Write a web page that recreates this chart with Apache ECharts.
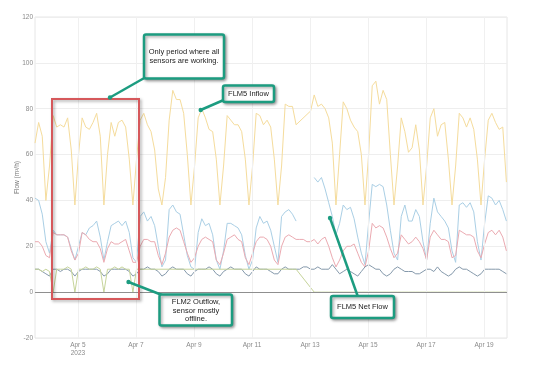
<!DOCTYPE html>
<html><head><meta charset="utf-8">
<script src="https://cdn.jsdelivr.net/npm/echarts@6/dist/echarts.min.js"></script>
<style>html,body{margin:0;padding:0;background:#fff}#c{width:536px;height:368px}</style>
</head><body><div id="c"></div>
<script>
// Sampling grid: one reading every 3 hours from Apr 3 12:30 (UTC)
const startTime = Date.UTC(2023, 3, 3, 12, 30);
const stepHours = 3;
const xMin = Date.UTC(2023, 3, 3, 12, 30);
const xMax = Date.UTC(2023, 3, 19, 19, 0);
const tickDays = [5, 7, 9, 11, 13, 15, 17, 19];
const yMin = -20, yMax = 120, yStep = 20;

// each row: 12:30, 15:30, 18:30, 21:30, 00:30, 03:30, 06:30, 09:30 starting Apr 3..Apr 18, then Apr 19
const inflow = [
  65, 74, 68, 40, 55, 77, 72, 73,
  72, 76, 62, 38, 60, 76, 72, 71,
  74, 78, 68, 38, 60, 74, 68, 74,
  75, 72, 58, 38, 58, 75, 78, 73,
  70, 62, 45, 38, 50, 75, 88, 84,
  84, 78, 60, 38, 55, 76, 80, 76,
  71, 70, 58, 38, 55, 77, 75, 73,
  73, 70, 58, 38, 55, 78, 77, 73,
  75, 72, 58, 38, 55, 82, 81, 81,
  73, null, null, null, 79, 86, 81, 82,
  80, 76, 65, 38, 60, 83, 80, 75,
  72, 70, 60, 38, 60, 90, 92, 82,
  88, 84, 60, 38, 55, 76, 70, 61,
  63, 73, 62, 38, 55, 76, 80, 68,
  73, 74, 58, 38, 55, 78, 76, 72,
  76, 71, 58, 38, 58, 75, 78, 74,
  71, 72, 48
];
const netFlow = [
  41, 40, 34, 22, 17, 27, 25, 25,
  25, 24, 19, 14, 20, 26, 25, 28,
  29, 31, 24, 14, 22, 29, 30, 31,
  29, 31, 26, 15, 13, 33, 35, 31,
  33, 29, 20, 11, 14, 36, 38, 35,
  34, 25, 16, 11, 10, 26, 32, 29,
  30, 25, 14, 10, 18, 30, 30, 29,
  28, 25, 16, 10, 14, 28, 33, 30,
  31, 27, 20, 13, 33, 35, 36, 34,
  31, null, null, null, null, 50, 48, 50,
  45, 39, 33, 25, 30, 38, 36, 37,
  32, 24, 17, 12, 30, 47, 46, 47,
  46, 38, 27, 17, 14, 33, 38, 31,
  31, 36, 33, 22, 14, 30, 41, 35,
  33, 31, 28, 18, 13, 38, 39, 37,
  39, 35, 22, 14, 30, 42, 41, 38,
  40, 36, 31
];
const outflow = [
  22, 22, 20, 16, 15, 26, 25, 25,
  25, 24, 18, 14, 17, 26, 25, 23,
  22, 22, 19, 13, 19, 22, 21, 21,
  22, 23, 18, 13, 13, 20, 23, 23,
  22, 22, 16, 12, 17, 24, 27, 28,
  27, 22, 17, 13, 15, 20, 23, 24,
  23, 22, 14, 12, 17, 23, 24, 25,
  23, 22, 15, 12, 17, 22, 24, 24,
  23, 20, 14, 12, 20, 24, 25, 24,
  23, 23, 23, 22, 22, 23, 21, 23,
  24, 20, 15, 11, 14, 18, 20, 20,
  21, 17, 13, 11, 18, 30, 28, 29,
  28, 24, 19, 15, 17, 25, 23, 21,
  22, 24, 22, 19, 14, 24, 27, 25,
  23, 23, 22, 15, 16, 27, 26, 25,
  25, 24, 18, 15, 21, 26, 27, 25,
  27, 24, 18
];
const baseFlow = [
  10, 10, 9, 8, 7, 10, 10, 9,
  10, 10, 9, 7, 9, 10, 10, 10,
  10, 10, 9, 7, 8, 10, 10, 10,
  10, 10, 9, 7, 8, 10, 10, 11,
  10, 10, 9, 7, 8, 10, 11, 10,
  10, 10, 8, 7, 9, 10, 10, 10,
  11, 10, 8, 7, 9, 10, 11, 10,
  10, 10, 8, 7, 9, 11, 10, 10,
  10, 9, 8, 8, 10, 11, 10, 10,
  10, 10, 11, 11, 10, 10, 11, 10,
  10, 10, 12, 10, 8, 9, 10, 9,
  8, 7, 9, 11, 12, 11, 10, 10,
  8, 7, 8, 10, 11, 10, 9, 9,
  9, 8, 8, 9, 10, 10, 9, 11,
  9, 8, 7, 8, 10, 11, 10, 10,
  9, 8, 7, 8, 10, 10, 10, 10,
  10, 9, 8
];
const flm2Outflow = [
  10, 10, 9, 10, 9, 0, 10, 10,
  10, 11, 10, 0, 10, 10, 11, 10,
  10, 11, 10, 0, 10, 10, 11, 10,
  11, 10, 10, 0, 10, null, null, null,
  null, null, null, null, null, null, null, null,
  null, null, null, null, null, null, null, null,
  null, null, null, null, null, null, null, null,
  null, null, null, null, null, null, null, null,
  null, null, null, null, null, null, null, null,
  10, null, null, null, null, 0, 0, 0,
  0, 0, 0, 0, 0, 0, 0, 0,
  0, 0, 0, 0, 0, 0, 0, 0,
  0, 0, 0, 0, 0, 0, 0, 0,
  0, 0, 0, 0, 0, 0, 0, 0,
  0, 0, 0, 0, 0, 0, 0, 0,
  0, 0, 0, 0, 0, 0, 0, 0,
  0, 0, 0
];

const times = inflow.map((_, i) => startTime + i * stepHours * 3600e3);
const pairs = arr => arr.map((v, i) => [times[i], v]);
const tickTimes = tickDays.map(d => Date.UTC(2023, 3, d));

const FONT = 'Liberation Sans, Arial, sans-serif';
const teal = '#1c9c80';
const shadow = {shadowBlur: 3, shadowColor: 'rgba(0,0,0,0.35)', shadowOffsetX: 1.5, shadowOffsetY: 1.5};

function line(name, data, color, extra) {
  return Object.assign({
    name, type: 'line', data: pairs(data), showSymbol: false, symbol: 'none',
    lineStyle: {color, width: 1}, itemStyle: {color}, animation: false, silent: true
  }, extra || {});
}

const chart = echarts.init(document.getElementById('c'), null, {renderer: 'canvas'});
chart.setOption({
  animation: false,
  backgroundColor: '#fff',
  grid: {left: 35, right: 29, top: 17, bottom: 30, show: true, borderColor: '#e6e6e6', borderWidth: 1},
  xAxis: {
    type: 'value', min: xMin, max: xMax,
    axisLine: {show: false}, axisTick: {show: false}, splitLine: {show: false},
    axisLabel: {
      customValues: tickTimes, color: '#8a8a8a', fontSize: 6.5, fontFamily: FONT, margin: 3, lineHeight: 8,
      formatter: v => { const d = new Date(v).getUTCDate(); return 'Apr ' + d + (d === 5 ? '\n2023' : ''); }
    }
  },
  yAxis: {
    type: 'value', min: yMin, max: yMax, interval: yStep,
    name: 'Flow (m³/h)', nameLocation: 'middle', nameGap: 14, nameMoveOverlap: false,
    nameTextStyle: {color: '#777', fontSize: 6.5, fontFamily: FONT},
    axisLine: {show: false}, axisTick: {show: false},
    axisLabel: {color: '#8a8a8a', fontSize: 6.5, fontFamily: FONT, margin: 2},
    splitLine: {lineStyle: {color: '#eeeeee', width: 1}}
  },
  series: [
    line('FLM5 Inflow', inflow, '#f5dc9c', {
      connectNulls: true,
      markLine: {
        silent: true, symbol: 'none', label: {show: false}, animation: false,
        lineStyle: {color: '#f0f0f0', width: 1, type: 'solid'},
        data: tickTimes.map(t => ({xAxis: t}))
      }
    }),
    line('FLM5 Net Flow', netFlow, '#aacfe5'),
    line('FLM5 Outflow', outflow, '#ebaab1'),
    line('Base Flow', baseFlow, '#8599ab', {
      markLine: {
        silent: true, symbol: 'none', label: {show: false}, animation: false,
        lineStyle: {color: '#8f8f8f', width: 1, type: 'solid'},
        data: [{yAxis: 0}]
      }
    }),
    line('FLM2 Outflow', flm2Outflow, '#c6d49a', {connectNulls: true})
  ],
  graphic: [
    {type: 'rect', z: 100, shape: {x: 52, y: 99, width: 87, height: 200},
     style: Object.assign({fill: 'none', stroke: '#d6585b', lineWidth: 2}, shadow)},
    {type: 'line', z: 100, shape: {x1: 146, y1: 77, x2: 110, y2: 97.5}, style: {stroke: teal, lineWidth: 2.5}},
    {type: 'circle', z: 100, shape: {cx: 110, cy: 97.5, r: 2.2}, style: {fill: teal}},
    {type: 'line', z: 100, shape: {x1: 226, y1: 99, x2: 200.7, y2: 110}, style: {stroke: teal, lineWidth: 2.5}},
    {type: 'circle', z: 100, shape: {cx: 200.7, cy: 110, r: 2.2}, style: {fill: teal}},
    {type: 'line', z: 100, shape: {x1: 162, y1: 295, x2: 128.5, y2: 282}, style: {stroke: teal, lineWidth: 2.5}},
    {type: 'circle', z: 100, shape: {cx: 128.5, cy: 282, r: 2.2}, style: {fill: teal}},
    {type: 'line', z: 100, shape: {x1: 358, y1: 297, x2: 330, y2: 218}, style: {stroke: teal, lineWidth: 2.5}},
    {type: 'circle', z: 100, shape: {cx: 330, cy: 218, r: 2.2}, style: {fill: teal}},
    {type: 'rect', z: 101, shape: {x: 144, y: 34.5, width: 80, height: 44, r: 2},
     style: Object.assign({fill: '#fff', stroke: teal, lineWidth: 2.5}, shadow)},
    {type: 'text', z: 102, x: 184, y: 56.7,
     style: {text: 'Only period where all\nsensors are working.', fill: '#222', font: '7.5px ' + FONT, align: 'center', verticalAlign: 'middle', lineHeight: 9}},
    {type: 'rect', z: 101, shape: {x: 223, y: 85.5, width: 51, height: 16.5, r: 2},
     style: Object.assign({fill: '#fff', stroke: teal, lineWidth: 2.5}, shadow)},
    {type: 'text', z: 102, x: 248.5, y: 94,
     style: {text: 'FLM5 Inflow', fill: '#222', font: '7.5px ' + FONT, align: 'center', verticalAlign: 'middle'}},
    {type: 'rect', z: 101, shape: {x: 159.5, y: 294.5, width: 72.5, height: 31, r: 2},
     style: Object.assign({fill: '#fff', stroke: teal, lineWidth: 2.5}, shadow)},
    {type: 'text', z: 102, x: 196, y: 310.5,
     style: {text: 'FLM2 Outflow,\nsensor mostly\noffline.', fill: '#222', font: '7.5px ' + FONT, align: 'center', verticalAlign: 'middle', lineHeight: 8.8}},
    {type: 'rect', z: 101, shape: {x: 331, y: 296, width: 63, height: 22, r: 2},
     style: Object.assign({fill: '#fff', stroke: teal, lineWidth: 2.5}, shadow)},
    {type: 'text', z: 102, x: 362.5, y: 307,
     style: {text: 'FLM5 Net Flow', fill: '#222', font: '7.5px ' + FONT, align: 'center', verticalAlign: 'middle'}}
  ]
});
</script>
</body></html>
